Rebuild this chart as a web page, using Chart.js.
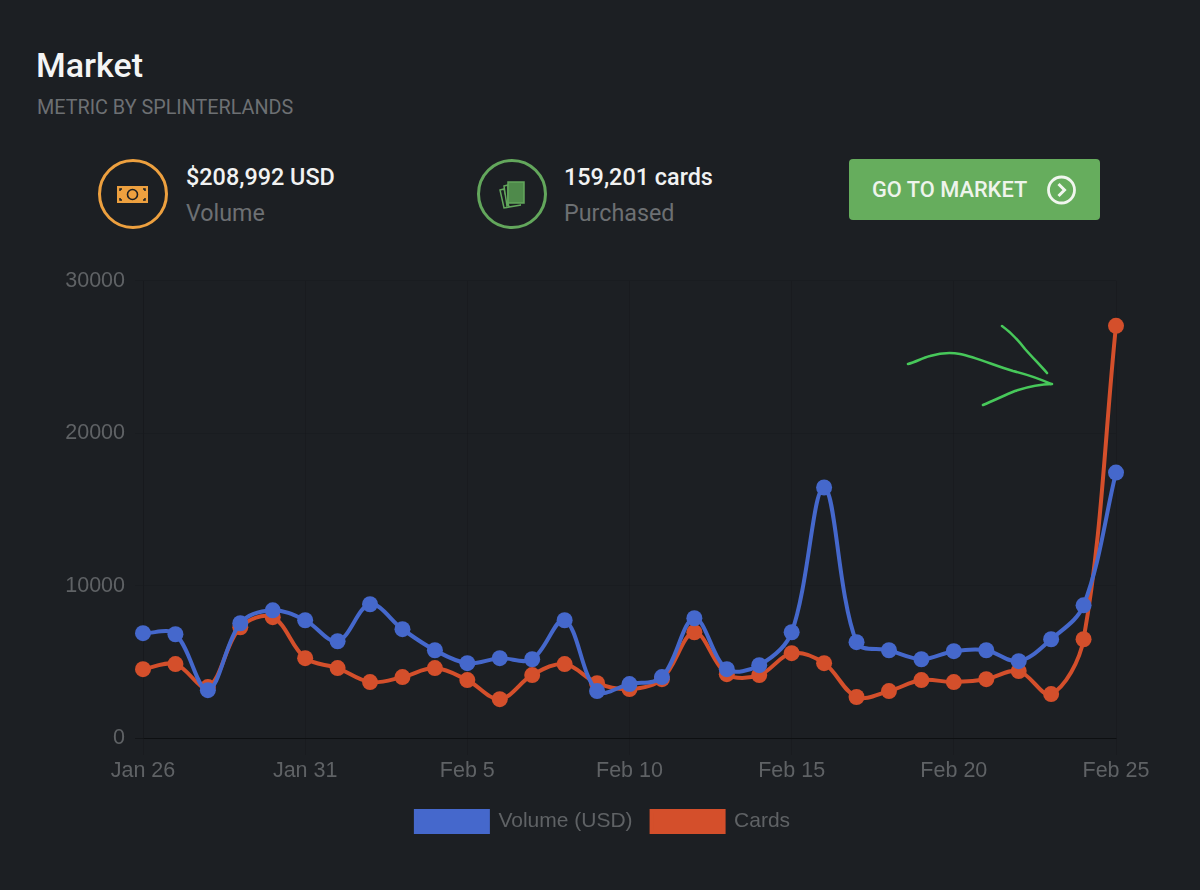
<!DOCTYPE html>
<html><head><meta charset="utf-8">
<script src="https://cdn.jsdelivr.net/npm/chart.js@4"></script>
<style>
html,body{margin:0;padding:0;background:#1c1f23;width:1200px;height:890px;overflow:hidden;font-family:Roboto,sans-serif}
.t{position:absolute;white-space:nowrap;line-height:1}
#wrap{position:absolute;left:0;top:258px;width:1200px;height:590px}
svg{position:absolute;left:0;top:0}
#btn{position:absolute;left:849px;top:159px;width:251px;height:61px;background:#66ad5d;border-radius:4px}
</style></head><body>
<div class="t" style="left:36px;top:48px;font-size:34px;font-weight:500;color:#f4f5f5">Market</div>
<div class="t" style="left:37px;top:98px;font-size:19.8px;color:#6d7073">METRIC BY SPLINTERLANDS</div>
<div class="t" style="left:186px;top:166px;font-size:23.400px;font-weight:500;color:#f1f2f2">$208,992 USD</div>
<div class="t" style="left:186px;top:202px;font-size:23.300px;color:#6d7073">Volume</div>
<div class="t" style="left:564px;top:166px;font-size:23.400px;font-weight:500;color:#f1f2f2">159,201 cards</div>
<div class="t" style="left:564px;top:202px;font-size:23.300px;color:#6d7073">Purchased</div>
<div id="btn"></div>
<div class="t" style="left:872px;top:179px;font-size:21.800px;font-weight:500;color:#eef4ec">GO TO MARKET</div>
<div id="wrap"><canvas id="c" width="1200" height="590"></canvas></div>
<svg width="1200" height="890" viewBox="0 0 1200 890" fill="none">
  <circle cx="133" cy="194" r="33.500" stroke="#eda03f" stroke-width="3"/>
  <rect x="117" y="186" width="31" height="17" fill="#eda03f"/>
  <circle cx="132.500" cy="194.500" r="5" stroke="#1c1f23" stroke-width="1.600"/>
  <path d="M120 191v-2h2M145 191v-2h-2M120 198v2h2M145 198v2h-2" stroke="#1c1f23" stroke-width="1.500"/>
  <circle cx="512" cy="194" r="33.500" stroke="#63a75c" stroke-width="3"/>
  <g stroke="#63a75c" stroke-width="1.500">
    <path d="M500 190l4-1 5 18 12-2-17 3z" fill="#1c1f23"/>
    <path d="M504 186l4-1v19l-1 2z" fill="#1c1f23"/>
    <rect x="508" y="182" width="16" height="21" fill="#4f8a4b"/>
  </g>
  <circle cx="1061.500" cy="190" r="13" stroke="#f1f6ef" stroke-width="2.800"/>
  <path d="M1058.500 184l6 6-6 6" stroke="#f1f6ef" stroke-width="3"/>
  <g stroke="#47c85a" stroke-width="2.600" stroke-linecap="round" stroke-linejoin="round">
    <path d="M908 364C916 362 922 358 930 356C940 353 950 352 960 354C975 357 996 366 1013 371C1025 374 1040 379 1051 384"/>
    <path d="M1002 326C1012 333 1018 340 1025 349C1033 358 1040 365 1047 373"/>
    <path d="M983 405C995 400 1005 395 1015 391C1027 387 1040 384 1052 384"/>
  </g>
</svg>
<script>
const categories=["Jan 26","Jan 27","Jan 28","Jan 29","Jan 30","Jan 31","Feb 1","Feb 2","Feb 3","Feb 4","Feb 5","Feb 6","Feb 7","Feb 8","Feb 9","Feb 10","Feb 11","Feb 12","Feb 13","Feb 14","Feb 15","Feb 16","Feb 17","Feb 18","Feb 19","Feb 20","Feb 21","Feb 22","Feb 23","Feb 24","Feb 25"];
const volumeUsd=[6880,6810,3140,7530,8380,7730,6350,8780,7140,5760,4910,5240,5170,7730,3080,3540,4000,7860,4520,4780,6940,16440,6290,5760,5170,5700,5760,5040,6480,8710,17420];
const cards=[4520,4850,3340,7270,7930,5240,4590,3670,4000,4590,3800,2550,4130,4850,3600,3210,3860,6940,4190,4130,5570,4910,2690,3080,3800,3670,3860,4390,2880,6480,27050];
const yTicks=[0,10000,20000,30000];
const blue="#4568cc",red="#d44f2b",labelColor="#5f6265",tickFont={family:"'Liberation Sans',sans-serif",size:21.5};
const shiftLegend={id:"shiftLegend",afterLayout(ch){const l=ch.legend;l.left+=45;l.right+=45;l.top+=6;l.bottom+=6;}};
new Chart(document.getElementById("c"),{
  type:"line",
  plugins:[shiftLegend],
  data:{labels:categories,datasets:[
    {label:"Volume (USD)",data:volumeUsd,borderColor:blue,backgroundColor:blue,pointBackgroundColor:blue,pointBorderColor:blue,borderWidth:4,pointRadius:8,pointBorderWidth:0,tension:0.35,fill:false},
    {label:"Cards",data:cards,borderColor:red,backgroundColor:red,pointBackgroundColor:red,pointBorderColor:red,borderWidth:4,pointRadius:8,pointBorderWidth:0,tension:0.35,fill:false}
  ]},
  options:{
    responsive:false,animation:false,
    layout:{padding:{left:0,right:84,top:7,bottom:12}},
    plugins:{tooltip:{enabled:false},
      legend:{position:"bottom",labels:{boxWidth:72,boxHeight:21,color:labelColor,padding:19,font:{family:"'Liberation Sans',sans-serif",size:21}}}},
    scales:{
      x:{offset:false,
        afterBuildTicks:a=>{a.ticks=a.ticks.filter((t,i)=>i%5===0)},
        afterFit:a=>{a.height=48},
        grid:{color:"rgba(0,0,0,0.1)",tickLength:17,drawOnChartArea:true},
        border:{color:"rgba(0,0,0,0.3)"},
        ticks:{autoSkip:false,maxRotation:0,color:labelColor,font:tickFont,padding:3}},
      y:{min:0,max:30000,
        afterBuildTicks:a=>{a.ticks=yTicks.map(v=>({value:v}))},
        afterFit:a=>{a.width=143},
        grid:{color:c=>c.tick&&c.tick.value===0?"rgba(0,0,0,0.3)":"rgba(0,0,0,0.08)",tickLength:8},
        border:{color:"rgba(0,0,0,0.08)"},
        ticks:{color:labelColor,font:tickFont,padding:10,callback:v=>String(v)}}
    }
  }
});
</script>
</body></html>
